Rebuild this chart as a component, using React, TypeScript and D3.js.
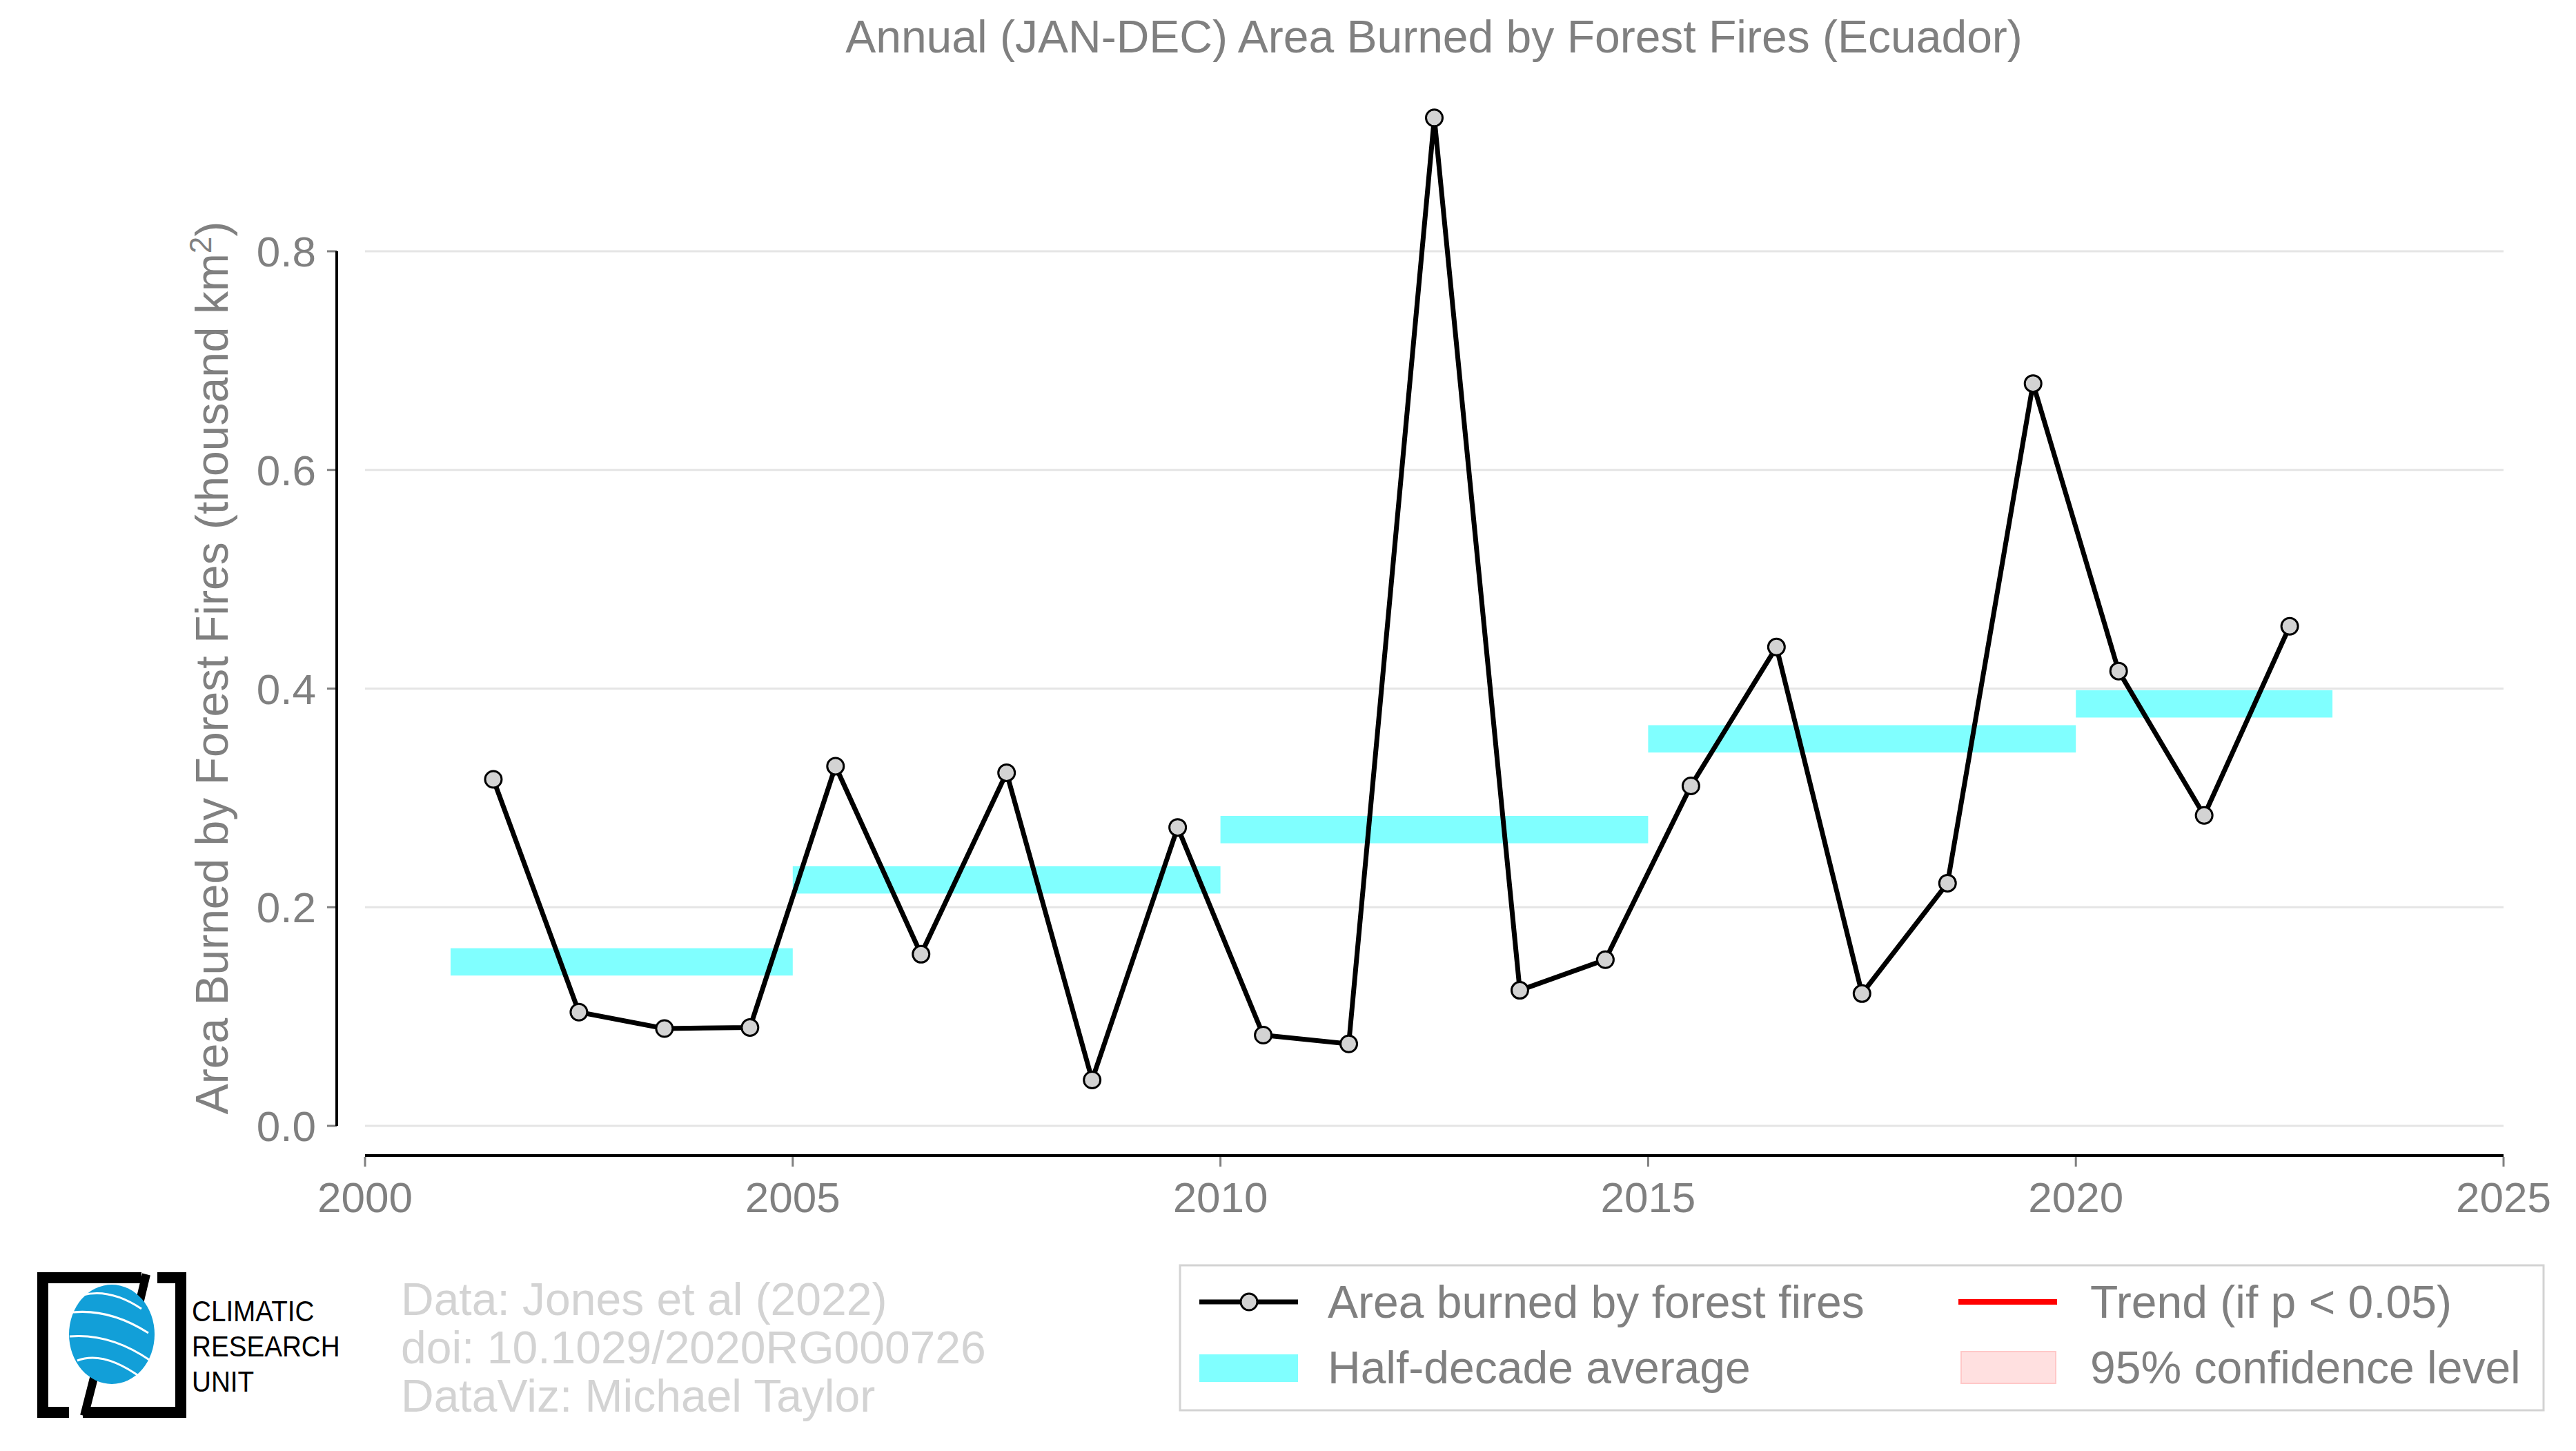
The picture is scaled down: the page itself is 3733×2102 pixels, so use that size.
import * as d3 from 'd3';

const years = [2001, 2002, 2003, 2004, 2005, 2006, 2007, 2008, 2009, 2010, 2011, 2012, 2013, 2014, 2015, 2016, 2017, 2018, 2019, 2020, 2021, 2022];
const burned = [0.317, 0.104, 0.089, 0.09, 0.329, 0.157, 0.323, 0.042, 0.273, 0.083, 0.075, 0.922, 0.124, 0.152, 0.311, 0.438, 0.121, 0.222, 0.679, 0.416, 0.284, 0.457];
const halfStart = [2001, 2005, 2010, 2015, 2020];
const halfEnd = [2005, 2010, 2015, 2020, 2023];
const halfAvg = [0.15, 0.225, 0.271, 0.354, 0.386];
const xTicks = [2000, 2005, 2010, 2015, 2020, 2025];
const yTicks = [0, 0.2, 0.4, 0.6, 0.8];

const W = 3733;
const H = 2102;
const font = '"Liberation Sans", Arial, sans-serif';
const grey = '#808080';

const App = () => {
  const x = d3.scaleLinear().domain([2000, 2025]).range([529, 3628]);
  const y = d3.scaleLinear().domain([0, 0.8]).range([1631, 364]);
  const line = d3
    .line<number>()
    .x((_, i) => x(years[i] + 0.5))
    .y((d) => y(d));
  const barH = y(0) - y(0.025);
  const axisY = 1674;

  return (
    <div style={{ position: 'absolute', left: 0, top: 0 }}>
      <svg width={W} height={H} style={{ display: 'block', background: 'white' }} fontFamily={font}>
        <text x={2078} y={76} textAnchor="middle" fontSize={66} fill={grey}>
          Annual (JAN-DEC) Area Burned by Forest Fires (Ecuador)
        </text>

        {yTicks.map((t) => (
          <g key={t}>
            <line x1={529} x2={3628} y1={y(t)} y2={y(t)} stroke="#e5e5e5" strokeWidth={3} />
            <line x1={474} x2={488} y1={y(t)} y2={y(t)} stroke={grey} strokeWidth={3} />
            <text x={458} y={y(t) + 22} textAnchor="end" fontSize={62} fill={grey}>
              {t.toFixed(1)}
            </text>
          </g>
        ))}
        <line x1={488} x2={488} y1={y(0.8)} y2={y(0)} stroke="black" strokeWidth={4} />

        <line x1={529} x2={3628} y1={axisY} y2={axisY} stroke="black" strokeWidth={4} />
        {xTicks.map((t) => (
          <g key={t}>
            <line x1={x(t)} x2={x(t)} y1={axisY + 2} y2={axisY + 16} stroke={grey} strokeWidth={3} />
            <text x={x(t)} y={axisY + 82} textAnchor="middle" fontSize={62} fill={grey}>
              {t}
            </text>
          </g>
        ))}

        <text transform={`translate(330,${y(0.4) - 30}) rotate(-90)`} textAnchor="middle" fontSize={66} fill={grey}>
          Area Burned by Forest Fires (thousand km
          <tspan dy={-24} fontSize={44}>2</tspan>
          <tspan dy={24}>)</tspan>
        </text>

        {halfAvg.map((v, i) => (
          <rect
            key={i}
            x={x(halfStart[i])}
            width={x(halfEnd[i]) - x(halfStart[i])}
            y={y(v) - barH / 2}
            height={barH}
            fill="#80ffff"
          />
        ))}

        <path d={line(burned) || ''} fill="none" stroke="black" strokeWidth={7} />
        {burned.map((v, i) => (
          <circle key={i} cx={x(years[i] + 0.5)} cy={y(v)} r={12} fill="#d3d3d3" stroke="black" strokeWidth={3} />
        ))}

        {/* legend */}
        <rect x={1710} y={1833} width={1976} height={210} fill="white" stroke="#d3d3d3" strokeWidth={3} />
        <line x1={1738} x2={1881} y1={1886} y2={1886} stroke="black" strokeWidth={7} />
        <circle cx={1810} cy={1886} r={12} fill="#d3d3d3" stroke="black" strokeWidth={3} />
        <text x={1924} y={1909} fontSize={66} fill={grey}>Area burned by forest fires</text>
        <rect x={1738} y={1962} width={143} height={40} fill="#80ffff" />
        <text x={1924} y={2004} fontSize={66} fill={grey}>Half-decade average</text>
        <line x1={2838} x2={2981} y1={1886} y2={1886} stroke="red" strokeWidth={8} />
        <text x={3029} y={1909} fontSize={66} fill={grey}>Trend (if p &lt; 0.05)</text>
        <rect x={2842} y={1958} width={137} height={46} fill="#ffe0e0" stroke="#ffc8c8" strokeWidth={2} />
        <text x={3029} y={2004} fontSize={66} fill={grey}>95% confidence level</text>

        {/* credits */}
        <g fill="#d3d3d3" fontSize={66}>
          <text x={581} y={1905}>Data: Jones et al (2022)</text>
          <text x={581} y={1975}>doi: 10.1029/2020RG000726</text>
          <text x={581} y={2045}>DataViz: Michael Taylor</text>
        </g>

        {/* logo */}
        <path d="M205,1851 L62,1851 L62,2046 L100,2046" fill="none" stroke="black" strokeWidth={16} />
        <path d="M228,1851 L262,1851 L262,2046 L120,2046" fill="none" stroke="black" strokeWidth={16} />
        <line x1={212} x2={188} y1={1846} y2={1946} stroke="black" strokeWidth={12} />
        <line x1={145} x2={122} y1={1961} y2={2051} stroke="black" strokeWidth={12} />
        <ellipse cx={162} cy={1933} rx={62} ry={72} fill="#129fd8" />
        <g stroke="white" strokeWidth={3} fill="none">
          <path d="M106,1901 Q160,1896 215,1931" />
          <path d="M101,1936 Q160,1931 218,1971" />
          <path d="M112,1971 Q150,1956 205,1996" />
          <path d="M120,1876 Q160,1866 205,1896" />
        </g>
        <g fontSize={42} fill="black" transform="translate(278,0) scale(0.92,1)">
          <text x={0} y={1914}>CLIMATIC</text>
          <text x={0} y={1965}>RESEARCH</text>
          <text x={0} y={2016}>UNIT</text>
        </g>
      </svg>
    </div>
  );
};

export default App;
